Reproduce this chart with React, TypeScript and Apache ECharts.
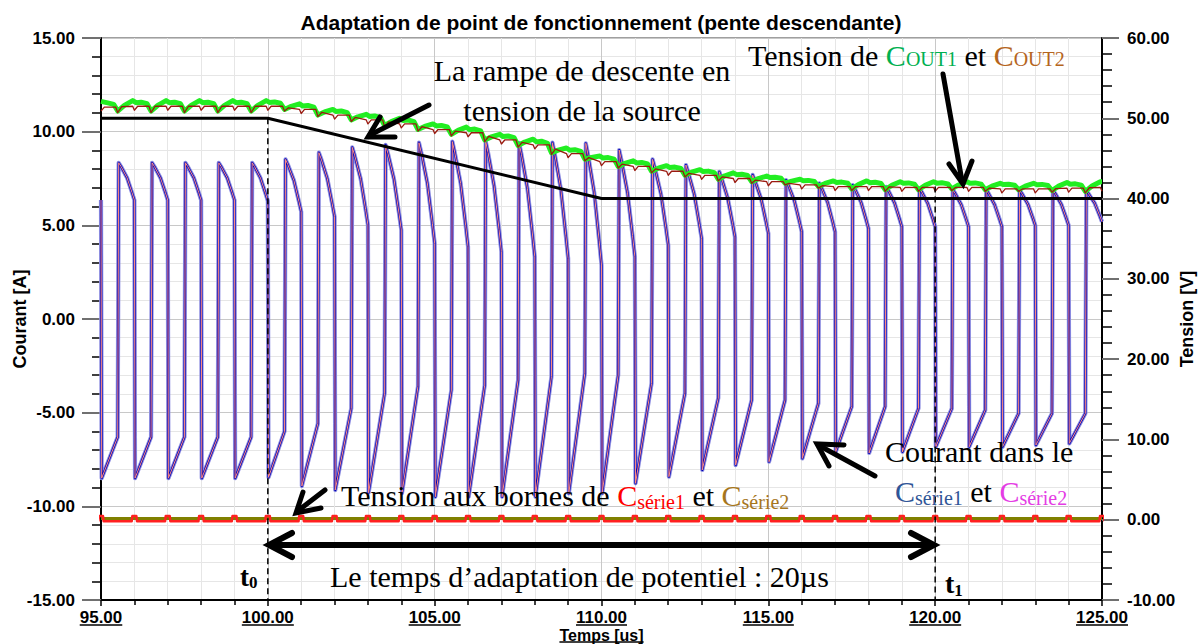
import React, { useEffect, useRef } from "react";
import * as echarts from "echarts";

const SANS = '"Liberation Sans", Arial, sans-serif';
const SERIF = '"Liberation Serif", "Times New Roman", serif';

const TITLE = "Adaptation de point de fonctionnement (pente descendante)";
const xTicks = [95, 100, 105, 110, 115, 120, 125];

// switching periods (us)
const periodStarts = [95, 96, 97, 98, 99, 100, 101, 102, 103, 104, 105, 106, 107, 108, 109, 110, 111, 112, 113, 114, 115, 116, 117, 118, 119, 120, 121, 122, 123, 124];

// Current in Cserie (A): value just before the falling edge at t = 95..125
const curTopEnd = [6.35, 6.35, 6.35, 6.35, 6.35, 6.3, 5.73, 5.46, 5.02, 4.75, 4.04, 3.86, 3.59, 3.32, 3.24, 2.88, 3.32, 3.95, 4.31, 4.39, 4.57, 4.66, 4.66, 4.84, 4.93, 4.93, 4.93, 4.93, 5.0, 5.0, 5.19];
// value just after the falling edge at t = 95..124
const curLow = [-8.5, -8.5, -8.5, -8.5, -8.5, -8.45, -8.92, -9.13, -9.27, -9.3, -9.49, -9.49, -9.49, -9.49, -9.31, -9.31, -8.77, -8.42, -8.06, -7.8, -7.62, -7.44, -7.09, -7.15, -7.09, -6.82, -6.82, -6.82, -6.73, -6.64];
// value just before the rising edge at t = 95.5..124.5
const curRiseTop = [-6.3, -6.3, -6.3, -6.3, -6.3, -6.0, -5.58, -4.77, -3.96, -3.6, -3.79, -3.53, -3.26, -3.08, -2.9, -2.99, -3.44, -3.97, -4.22, -4.33, -4.33, -4.5, -4.68, -4.68, -4.77, -4.77, -4.86, -5.04, -5.04, -5.04];
// peak after the rising edge at t = 95.5..124.5
const curPeak = [8.34, 8.34, 8.34, 8.34, 8.34, 8.52, 8.88, 9.16, 9.29, 9.41, 9.47, 9.47, 9.4, 9.41, 9.38, 9.02, 8.52, 8.22, 7.86, 7.69, 7.42, 7.24, 7.15, 7.06, 6.98, 6.9, 6.9, 6.88, 6.88, 6.85];

// Cout1 voltage (V): ripple peaks at t = 95..125, dips at t = 95.5..124.5
const greenPeak = [52.1, 52.2, 52.2, 52.2, 52.2, 52.2, 51.8, 51.1, 50.5, 50.0, 49.3, 48.9, 48.0, 47.4, 46.3, 45.3, 44.7, 44.1, 43.6, 43.2, 42.8, 42.4, 42.2, 42.2, 42.1, 42.1, 42.1, 41.9, 41.9, 42.0, 42.1];
const greenDip = [50.9, 50.9, 50.9, 50.9, 50.9, 51.1, 50.4, 49.8, 49.1, 48.6, 48.0, 47.3, 46.6, 45.7, 44.9, 44.0, 43.4, 42.9, 42.4, 42.1, 41.9, 41.5, 41.2, 41.1, 41.1, 41.2, 41.1, 41.1, 41.0, 40.9];

// Cout2 voltage (V): plateau at t = 95..125, small notch at t = 95..125, big notch at t = 95.5..124.5
const brownTop = [51.4, 51.5, 51.5, 51.5, 51.5, 51.5, 51.1, 50.4, 49.8, 49.3, 48.6, 48.2, 47.3, 46.7, 45.6, 44.6, 44.0, 43.4, 42.9, 42.5, 42.1, 41.7, 41.5, 41.5, 41.4, 41.4, 41.4, 41.2, 41.2, 41.3, 41.4];
const brownNotch = [50.9, 51.0, 51.0, 51.0, 51.0, 51.0, 50.6, 49.9, 49.3, 48.8, 48.1, 47.7, 46.8, 46.2, 45.1, 44.1, 43.5, 42.9, 42.4, 42.0, 41.6, 41.2, 41.0, 41.0, 40.9, 40.9, 40.9, 40.7, 40.7, 40.8, 40.9];
const brownDip = [50.7, 50.7, 50.7, 50.7, 50.7, 50.9, 50.2, 49.6, 48.9, 48.4, 47.8, 47.1, 46.4, 45.5, 44.7, 43.8, 43.2, 42.7, 42.2, 41.9, 41.7, 41.3, 41.0, 40.9, 40.9, 41.0, 40.9, 40.9, 40.8, 40.7];

// Source voltage (V)
const sourceTimes = [95, 100, 110, 125];
const sourceVolts = [50, 50, 40, 40];

// Voltage across Cserie1 / Cserie2 (V)
const cserie1Base = -0.2;
const cserie1Spike = 0.45;
const cserie2Level = 0.15;
const spikeTimes = [95, 96, 97, 98, 99, 100, 101, 102, 103, 104, 105, 106, 107, 108, 109, 110, 111, 112, 113, 114, 115, 116, 117, 118, 119, 120, 121, 122, 123, 124, 125];

// t0 / t1 markers
const markerTimes = [100, 120];
const markerTops = [50, 41.5];

function buildCurrent(): number[][] {
  const pts: number[][] = [];
  for (let i = 0; i < periodStarts.length; i++) {
    const k = periodStarts[i];
    pts.push([k, curTopEnd[i]]);
    pts.push([k + 0.02, curLow[i]]);
    pts.push([k + 0.5, curRiseTop[i]]);
    const pk = curPeak[i];
    const end = curTopEnd[i + 1];
    const d = pk - end;
    pts.push([k + 0.53, pk]);
    pts.push([k + 0.6, pk - 0.1 * d]);
    pts.push([k + 0.78, pk - 0.4 * d]);
    pts.push([k + 0.93, pk - 0.8 * d]);
  }
  pts.push([125, curTopEnd[curTopEnd.length - 1]]);
  return pts;
}

function buildGreen(): number[][] {
  const pts: number[][] = [];
  const p0 = greenPeak[0], d0 = greenDip[0];
  pts.push([95, p0]);
  pts.push([95.2, p0 - 0.15 * (p0 - d0)]);
  pts.push([95.38, p0 - 0.3 * (p0 - d0)]);
  for (let i = 0; i < greenDip.length; i++) {
    const t = 95.5 + i;
    const d = greenDip[i];
    const P = greenPeak[i + 1];
    pts.push([t, d]);
    pts.push([t + 0.2, d + 0.55 * (P - d)]);
    pts.push([t + 0.45, P]);
    if (i + 1 < greenDip.length) {
      const nd = greenDip[i + 1];
      pts.push([t + 0.55, P - 0.2 * (P - nd)]);
      pts.push([t + 0.7, P - 0.15 * (P - nd)]);
      pts.push([t + 0.88, P - 0.3 * (P - nd)]);
    } else {
      pts.push([125, P]);
    }
  }
  return pts;
}

function buildBrown(): number[][] {
  const pts: number[][] = [];
  for (let i = 0; i < periodStarts.length; i++) {
    const k = periodStarts[i];
    const top = brownTop[i];
    const nextTop = brownTop[i + 1];
    if (i > 0) pts.push([k - 0.05, top]);
    pts.push([k, brownNotch[i]]);
    pts.push([k + 0.1, top]);
    pts.push([k + 0.44, top]);
    pts.push([k + 0.5, brownDip[i]]);
    pts.push([k + 0.62, (top + nextTop) / 2]);
  }
  pts.push([124.95, brownTop[brownTop.length - 1]]);
  pts.push([125, brownNotch[brownNotch.length - 1]]);
  return pts;
}

function buildCserie1(): number[][] {
  const pts: number[][] = [];
  spikeTimes.forEach((k) => {
    pts.push([k - 0.08, cserie1Base]);
    pts.push([k - 0.06, cserie1Spike]);
    pts.push([k + 0.06, cserie1Spike]);
    pts.push([k + 0.08, cserie1Base]);
  });
  return pts;
}

const lineBase = {
  type: "line",
  showSymbol: false,
  symbol: "none",
  silent: true,
  animation: false,
  clip: true,
};

function buildOption(): any {
  const current = buildCurrent();
  const axisText = { fontWeight: "bold", fontSize: 17, fontFamily: SANS, color: "#000" };
  const nameText = { fontWeight: "bold", fontSize: 16, fontFamily: SANS, color: "#000" };
  const yNameText = { fontWeight: "bold", fontSize: 18, fontFamily: SANS, color: "#000" };
  return {
    animation: false,
    backgroundColor: "#ffffff",
    title: {
      text: TITLE,
      left: "center",
      top: 7,
      textStyle: { fontWeight: "bold", fontSize: 21, fontFamily: SANS, color: "#000" },
    },
    grid: {
      left: 101,
      right: 100,
      top: 38,
      bottom: 44,
      containLabel: false,
      outerBoundsMode: "none",
      show: true,
      borderColor: "#808080",
      borderWidth: 1.5,
      backgroundColor: "transparent",
    },
    xAxis: {
      type: "value",
      min: 95,
      max: 125,
      interval: 5,
      axisLine: { show: true, onZero: false, lineStyle: { color: "#000", width: 2 } },
      axisTick: { show: true, length: 6, lineStyle: { color: "#000", width: 1.5 } },
      minorTick: { show: true, splitNumber: 5, length: 5, lineStyle: { color: "#000", width: 1.5 } },
      splitLine: { show: true, lineStyle: { color: "#c8c8c8", width: 1 } },
      minorSplitLine: { show: true, lineStyle: { color: "#e6e6e6", width: 1 } },
      axisLabel: { ...axisText, margin: 9, formatter: (v: number) => v.toFixed(2) },
      name: "Temps [us]",
      nameLocation: "middle",
      nameGap: 27,
      nameMoveOverlap: false,
      nameTextStyle: nameText,
    },
    yAxis: [
      {
        type: "value",
        position: "left",
        min: -15,
        max: 15,
        interval: 5,
        axisLine: { show: true, onZero: false, lineStyle: { color: "#000", width: 2 } },
        axisTick: { show: true, length: 19, lineStyle: { color: "#707070", width: 2 } },
        minorTick: { show: true, splitNumber: 5, length: 9, lineStyle: { color: "#000", width: 1.5 } },
        splitLine: { show: true, lineStyle: { color: "#c8c8c8", width: 1 } },
        minorSplitLine: { show: true, lineStyle: { color: "#e6e6e6", width: 1 } },
        axisLabel: { ...axisText, margin: 26, formatter: (v: number) => v.toFixed(2) },
        name: "Courant [A]",
        nameLocation: "middle",
        nameRotate: 90,
        nameGap: 72,
        nameMoveOverlap: false,
        nameTextStyle: yNameText,
      },
      {
        type: "value",
        position: "right",
        min: -10,
        max: 60,
        interval: 10,
        axisLine: { show: true, onZero: false, lineStyle: { color: "#000", width: 2 } },
        axisTick: { show: true, length: 17, lineStyle: { color: "#707070", width: 2 } },
        minorTick: { show: true, splitNumber: 5, length: 10, lineStyle: { color: "#000", width: 1.5 } },
        splitLine: { show: false },
        minorSplitLine: { show: false },
        axisLabel: { ...axisText, margin: 25, formatter: (v: number) => v.toFixed(2) },
        name: "Tension [V]",
        nameLocation: "middle",
        nameRotate: 90,
        nameGap: 76,
        nameMoveOverlap: false,
        nameTextStyle: yNameText,
      },
    ],
    series: [
      { ...lineBase, name: "halo", yAxisIndex: 0, z: 2, data: current, lineStyle: { color: "#8c8ce0", width: 4.2, join: "round" } },
      { ...lineBase, name: "I Cserie1", yAxisIndex: 0, z: 3, data: current, lineStyle: { color: "#0000b4", width: 2.2, join: "round" } },
      { ...lineBase, name: "I Cserie2", yAxisIndex: 0, z: 4, data: current, lineStyle: { color: "#ff8a80", width: 1, join: "round" } },
      { ...lineBase, name: "V Cout1", yAxisIndex: 1, z: 5, data: buildGreen(), lineStyle: { color: "#22ee22", width: 5, join: "round" } },
      { ...lineBase, name: "V Cout2", yAxisIndex: 1, z: 6, data: buildBrown(), lineStyle: { color: "#9a1a10", width: 1.3, join: "round" } },
      { ...lineBase, name: "Source", yAxisIndex: 1, z: 7, data: sourceTimes.map((t, i) => [t, sourceVolts[i]]), lineStyle: { color: "#000", width: 3 } },
      { ...lineBase, name: "V Cserie2", yAxisIndex: 1, z: 8, data: [[95, cserie2Level], [125, cserie2Level]], lineStyle: { color: "#808000", width: 3 } },
      { ...lineBase, name: "V Cserie1", yAxisIndex: 1, z: 9, data: buildCserie1(), lineStyle: { color: "#ff2020", width: 2.5, join: "round" } },
      ...markerTimes.map((t, i) => ({
        ...lineBase,
        name: "marker" + i,
        yAxisIndex: 1,
        z: 10,
        data: [[t, markerTops[i]], [t, -10]],
        lineStyle: { color: "#000", width: 1.5, type: [6, 4] },
      })),
    ],
  };
}

function tok(size: number, color: string, pb = 0, weight = "normal") {
  return { fontSize: size, fontFamily: SERIF, fill: color, color, fontWeight: weight, verticalAlign: "bottom", padding: [0, 0, pb, 0] };
}

function textEl(x: number, y: number, text: string, rich: any, align = "left") {
  return {
    type: "text",
    x,
    y,
    silent: true,
    z: 100,
    style: {
      text,
      rich,
      align,
      verticalAlign: "middle",
      textAlign: align,
      textVerticalAlign: "middle",
      fontFamily: SERIF,
      fontSize: 30,
      fill: "#000",
    },
  };
}

function arrow(shaft: number[][], head: number[][], w: number) {
  return [
    { type: "polyline", silent: true, z: 90, shape: { points: shaft }, style: { stroke: "#000", lineWidth: w, fill: null, lineCap: "round" } },
    { type: "polyline", silent: true, z: 90, shape: { points: head }, style: { stroke: "#000", lineWidth: w, fill: null, lineCap: "round", lineJoin: "miter" } },
  ];
}

function buildAnnotations(): any[] {
  const n = tok(30, "#000");
  const nb = tok(30, "#000", 1.5);
  return [
    textEl(582, 70, "{n|La rampe de descente en}", { n }, "center"),
    textEl(582, 110, "{n|tension de la source}", { n }, "center"),
    textEl(748, 55, "{n|Tension de }{g|C}{gs|OUT1}{n| et }{b|C}{bs|OUT2}", {
      n,
      g: tok(30, "#00b050"),
      gs: tok(20, "#00b050", 1),
      b: tok(30, "#b5651d"),
      bs: tok(20, "#b5651d", 1),
    }),
    textEl(341, 496, "{n|Tension aux bornes de }{r|C}{rs|série1}{n| et }{o|C}{os|série2}", {
      n: nb,
      r: tok(30, "#ff0000", 1.5),
      rs: tok(20, "#ff0000"),
      o: tok(30, "#a6761d", 1.5),
      os: tok(20, "#a6761d"),
    }),
    textEl(885, 451, "{n|Courant dans le}", { n }),
    textEl(895, 492, "{b|C}{bs|série1}{n| et }{m|C}{ms|série2}", {
      n: nb,
      b: tok(30, "#2f5597", 1.5),
      bs: tok(20, "#2f5597"),
      m: tok(30, "#e43ce4", 1.5),
      ms: tok(20, "#e43ce4"),
    }),
    textEl(330, 576, "{n|Le temps d’adaptation de potentiel : 20µs}", { n }),
    textEl(240, 577, "{t|t}{s|0}", { t: tok(27, "#000", 1, "bold"), s: tok(17, "#000", 0, "bold") }),
    textEl(945, 584, "{t|t}{s|1}", { t: tok(28, "#000", 1, "bold"), s: tok(17, "#000", 0, "bold") }),
    ...arrow([[429, 105], [370, 135]], [[380, 117], [368, 137], [395, 137]], 5),
    ...arrow([[943, 74], [962, 181]], [[949, 164], [963, 184], [972, 161]], 5),
    ...arrow([[325, 490], [299, 510]], [[303, 492], [296, 513], [321, 508]], 5),
    ...arrow([[875, 476], [820, 446]], [[844, 445], [817, 444], [829, 466]], 5),
    ...arrow([[271, 545], [932, 545]], [[292, 533], [269, 545], [292, 557]], 6),
    ...arrow([[932, 545], [932, 545]], [[911, 533], [934, 545], [911, 557]], 6),
  ];
}

export default function App() {
  const ref = useRef<HTMLDivElement>(null);
  useEffect(() => {
    if (!ref.current) return;
    const chart = echarts.init(ref.current, null, { renderer: "svg" });
    chart.setOption(buildOption());

    const ctx = document.createElement("canvas").getContext("2d");
    const measure = (s: string, size: number) => {
      if (!ctx) return s.length * 9;
      ctx.font = `bold ${size}px ${SANS}`;
      return ctx.measureText(s).width;
    };
    const axisY = chart.convertToPixel({ yAxisIndex: 0 }, -15) as number;
    const xLeft = chart.convertToPixel({ xAxisIndex: 0 }, 95) as number;
    const xRight = chart.convertToPixel({ xAxisIndex: 0 }, 125) as number;
    const underlines: any[] = xTicks.map((v) => {
      const px = chart.convertToPixel({ xAxisIndex: 0 }, v) as number;
      const w = measure(v.toFixed(2), 17);
      return {
        type: "line",
        silent: true,
        shape: { x1: px - w / 2, y1: axisY + 25, x2: px + w / 2, y2: axisY + 25 },
        style: { stroke: "#000", lineWidth: 1.5 },
      };
    });
    const nameW = measure("Temps [us]", 16);
    const cx = (xLeft + xRight) / 2;
    underlines.push({
      type: "line",
      silent: true,
      shape: { x1: cx - nameW / 2, y1: axisY + 42, x2: cx + nameW / 2, y2: axisY + 42 },
      style: { stroke: "#000", lineWidth: 1.5 },
    });

    chart.setOption({ graphic: [...buildAnnotations(), ...underlines] });
    return () => chart.dispose();
  }, []);
  return (
    <div
      ref={ref}
      style={{ position: "fixed", left: 0, top: 0, width: 1202, height: 644, background: "#fff" }}
    />
  );
}
